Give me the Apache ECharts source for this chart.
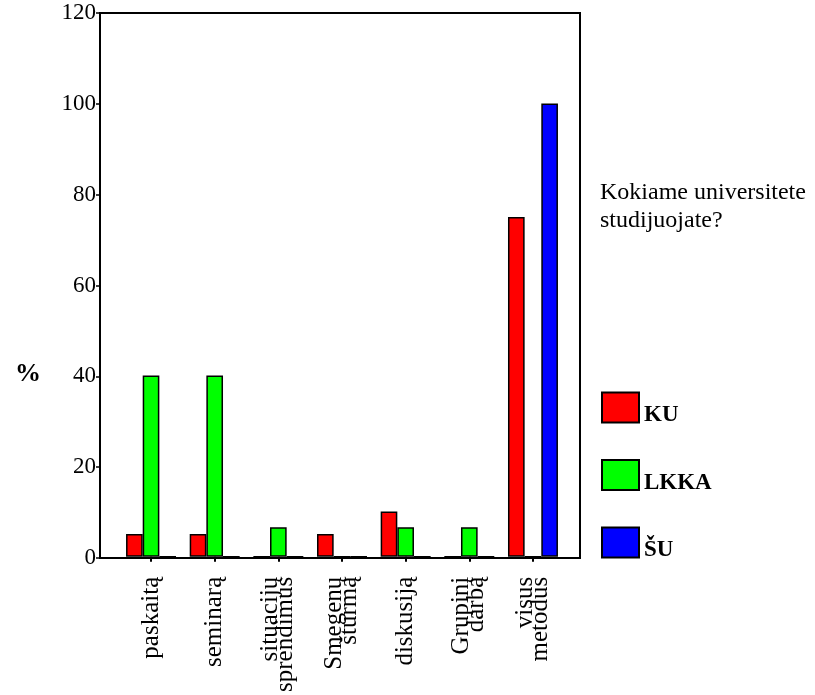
<!DOCTYPE html>
<html>
<head>
<meta charset="utf-8">
<script src="https://cdn.jsdelivr.net/npm/echarts@6/dist/echarts.min.js"></script>
<style>html,body{margin:0;padding:0;background:#fff;}#c{width:815px;height:695px;}</style>
</head>
<body>
<div id="c"></div>
<script>
var categories = ['paskaitą', 'seminarą', 'situacijų\nsprendimus', 'Smegenų\nšturmą', 'diskusiją', 'Grupinį\ndarbą', 'visus\nmetodus'];
var seriesNames = ['KU', 'LKKA', 'ŠU'];
var valuesKU = [5, 5, 0, 5, 10, 0, 75];
var valuesLKKA = [40, 40, 6.5, 0, 6.5, 6.5, 0];
var valuesSU = [0, 0, 0, 0, 0, 0, 100];
var yTicks = [0, 20, 40, 60, 80, 100, 120];
var legendTitle = 'Kokiame universitete\nstudijuojate?';
var yTitle = '%';

var FONT = "'Liberation Serif', 'Times New Roman', serif";
var colors = ['#ff0000', '#00ff00', '#0000ff'];
var allValues = [valuesKU, valuesLKKA, valuesSU];

var chart = echarts.init(document.getElementById('c'));
var series = seriesNames.map(function (n, i) {
  return {
    name: n,
    type: 'bar',
    xAxisIndex: 0,
    yAxisIndex: 0,
    data: allValues[i],
    barGap: '0%',
    barCategoryGap: '21.5%',
    itemStyle: { color: colors[i], borderColor: '#000', borderWidth: 1.5 },
    emphasis: { disabled: true }
  };
});

chart.setOption({
  animation: false,
  backgroundColor: '#fff',
  title: [
    { text: legendTitle, left: 595, top: 174,
      textStyle: { fontFamily: FONT, fontSize: 24, fontWeight: 'normal', color: '#000', lineHeight: 28 } },
    { text: yTitle, left: 10, top: 356,
      textStyle: { fontFamily: FONT, fontSize: 26, fontWeight: 'bold', color: '#000' } }
  ],
  legend: {
    orient: 'vertical', left: 596, top: 383,
    itemWidth: 37, itemHeight: 30, itemGap: 28.5,
    icon: 'rect',
    data: seriesNames,
    formatter: '{t|{name}}',
    textStyle: {
      fontFamily: FONT, fontSize: 23, fontWeight: 'bold', color: '#000',
      rich: { t: { fontFamily: FONT, fontSize: 23, fontWeight: 'bold', color: '#000', lineHeight: 28, padding: [16, 0, 0, 0] } }
    }
  },
  grid: [
    { left: 119.2, right: 250.2, top: 13, bottom: 137, show: false },
    { left: 100, right: 235, top: 13, bottom: 137, show: true, borderColor: '#000', borderWidth: 2, backgroundColor: 'transparent' }
  ],
  xAxis: [
    { type: 'category', gridIndex: 0, data: categories,
      axisLine: { show: false },
      axisTick: { show: true, alignWithLabel: true, length: 5, lineStyle: { color: '#000', width: 2 } },
      axisLabel: { rotate: 90, margin: 20, fontFamily: FONT, fontSize: 25, color: '#000', lineHeight: 15, interval: 0 } },
    { type: 'value', gridIndex: 1, min: 0, max: 1, show: false }
  ],
  yAxis: [
    { type: 'value', gridIndex: 0, min: 0, max: 120, show: false },
    { type: 'value', gridIndex: 1, min: yTicks[0], max: yTicks[yTicks.length - 1], interval: 20,
      axisLine: { show: true, lineStyle: { color: '#000', width: 2 } },
      axisTick: { show: true, length: 4, lineStyle: { color: '#000', width: 1.5 } },
      splitLine: { show: false },
      axisLabel: { margin: 4, fontFamily: FONT, fontSize: 23, color: '#000' } }
  ],
  series: series
});
</script>
</body>
</html>
